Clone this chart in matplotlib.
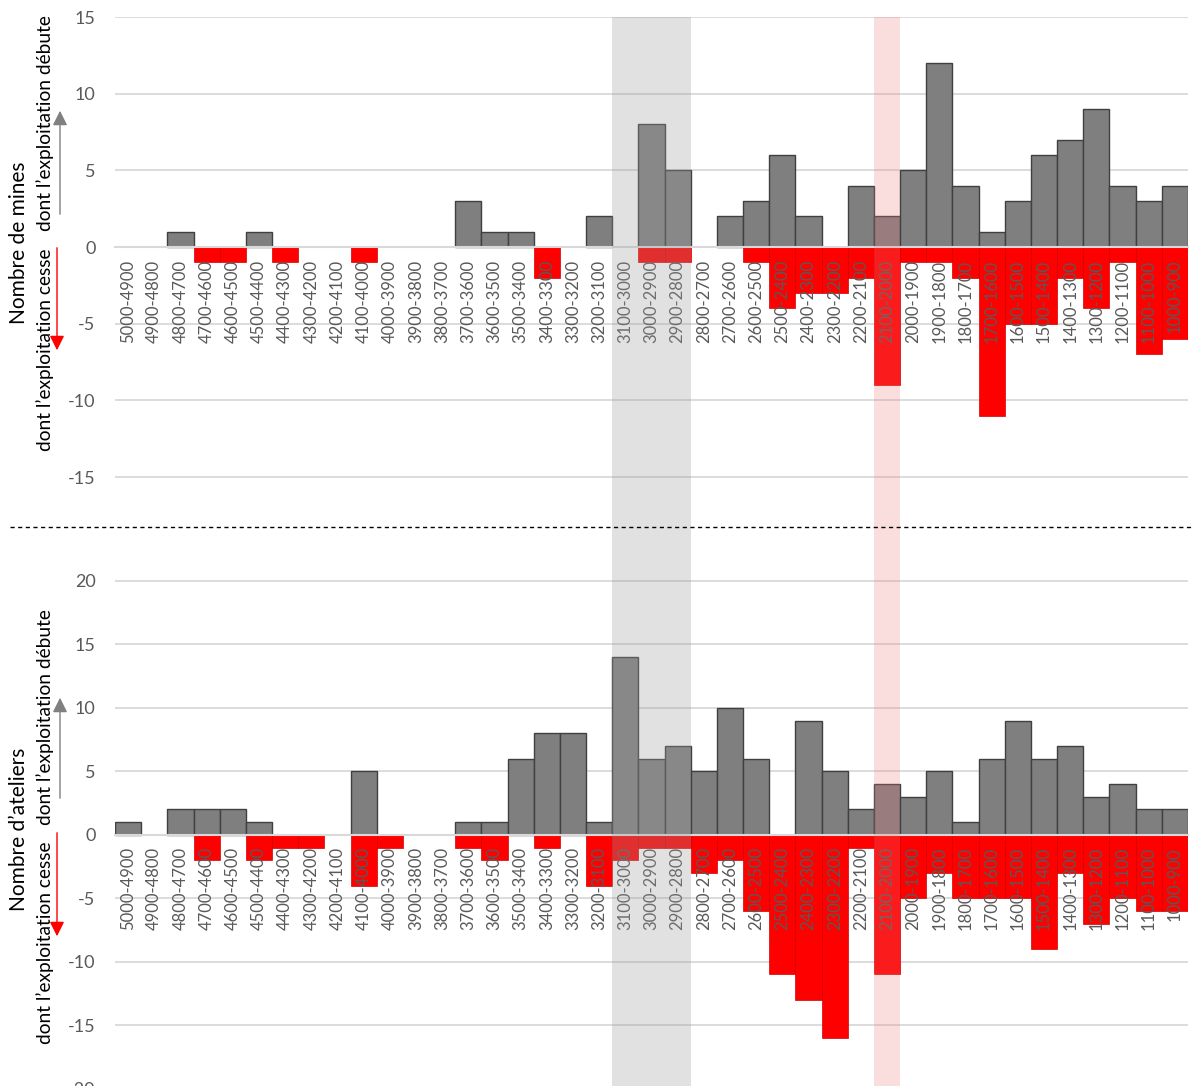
import numpy as np
import matplotlib
matplotlib.use("Agg")
import matplotlib.pyplot as plt
from matplotlib.lines import Line2D
from matplotlib.patches import FancyArrowPatch

plt.rcParams['font.family'] = ['Lato', 'DejaVu Sans']
plt.rcParams['axes.unicode_minus'] = False

# Periods (years BC), from oldest to most recent
periods = ['5000-4900', '4900-4800', '4800-4700', '4700-4600', '4600-4500',
           '4500-4400', '4400-4300', '4300-4200', '4200-4100', '4100-4000',
           '4000-3900', '3900-3800', '3800-3700', '3700-3600', '3600-3500',
           '3500-3400', '3400-3300', '3300-3200', '3200-3100', '3100-3000',
           '3000-2900', '2900-2800', '2800-2700', '2700-2600', '2600-2500',
           '2500-2400', '2400-2300', '2300-2200', '2200-2100', '2100-2000',
           '2000-1900', '1900-1800', '1800-1700', '1700-1600', '1600-1500',
           '1500-1400', '1400-1300', '1300-1200', '1200-1100', '1100-1000',
           '1000-900']

# Mines: number starting / ending exploitation
mines_start = [0, 0, 1, 0, 0, 1, 0, 0, 0, 0,
               0, 0, 0, 3, 1, 1, 0, 0, 2, 0,
               8, 5, 0, 2, 3, 6, 2, 0, 4, 2,
               5, 12, 4, 1, 3, 6, 7, 9, 4, 3,
               4]
mines_end = [0, 0, 0, 1, 1, 0, 1, 0, 0, 1,
             0, 0, 0, 0, 0, 0, 2, 0, 0, 0,
             1, 1, 0, 0, 1, 4, 3, 3, 2, 9,
             1, 1, 2, 11, 5, 5, 2, 4, 1, 7,
             6]

# Workshops (ateliers): number starting / ending exploitation
ateliers_start = [1, 0, 2, 2, 2, 1, 0, 0, 0, 5,
                  0, 0, 0, 1, 1, 6, 8, 8, 1, 14,
                  6, 7, 5, 10, 6, 0, 9, 5, 2, 4,
                  3, 5, 1, 6, 9, 6, 7, 3, 4, 2,
                  2]
ateliers_end = [0, 0, 0, 2, 0, 2, 1, 1, 0, 4,
                1, 0, 0, 1, 2, 0, 1, 0, 4, 2,
                1, 1, 3, 2, 6, 11, 13, 16, 1, 11,
                5, 3, 5, 5, 5, 9, 3, 7, 5, 6,
                6]

# Highlighted periods
gray_span = ('3100-3000', '2900-2800')
pink_span = ('2100-2000', '2100-2000')

W, H = 1196, 1086
fig = plt.figure(figsize=(W / 100, H / 100), dpi=100)

x = np.arange(len(periods))
left, right = 115, 1188


def draw_panel(ax, starts, ends, yticks, ylim):
    starts = np.array(starts)
    ends = np.array(ends)
    m = starts > 0
    ax.bar(x[m], starts[m], width=1, color='#7f7f7f', edgecolor='#404040',
           linewidth=1, zorder=1)
    m = ends > 0
    ax.bar(x[m], -ends[m], width=1, color='#ff0000', edgecolor='#d00000',
           linewidth=0.5, zorder=1)
    for t in yticks:
        ax.axhline(t, color='#d9d9d9', linewidth=1.3, zorder=0)
    ax.set_xlim(-0.5, len(periods) - 0.5)
    ax.set_ylim(*ylim)
    ax.set_yticks(yticks)
    ax.set_xticks(x, periods)
    ax.set_axisbelow(False)
    for s in ['top', 'right', 'left']:
        ax.spines[s].set_visible(False)
    ax.spines['bottom'].set_position(('data', 0))
    ax.spines['bottom'].set_color('#d9d9d9')
    ax.spines['bottom'].set_linewidth(1.5)
    ax.tick_params(axis='x', length=0, pad=9, labelsize=12,
                   labelcolor='#595959', labelrotation=90)
    ax.tick_params(axis='y', length=0, pad=14, labelsize=13,
                   labelcolor='#595959')
    i0, i1 = periods.index(gray_span[0]), periods.index(gray_span[1])
    ax.axvspan(i0 - 0.5, i1 + 0.5, color='#9d9d9d', alpha=0.3, lw=0, zorder=3)
    i0, i1 = periods.index(pink_span[0]), periods.index(pink_span[1])
    ax.axvspan(i0 - 0.5, i1 + 0.5, color='#ee7678', alpha=0.24, lw=0, zorder=3)


# Top panel: mines
ax1 = fig.add_axes([left / W, 1 - 527 / H, (right - left) / W, 510 / H])
draw_panel(ax1, mines_start, mines_end, list(range(-15, 16, 5)), (-18.26, 15))

# Bottom panel: ateliers
ax2 = fig.add_axes([left / W, 1 - 1090 / H, (right - left) / W, 563 / H])
draw_panel(ax2, ateliers_start, ateliers_end, list(range(-20, 21, 5)), (-20.1, 24.25))

# Separator
fig.add_artist(Line2D([10 / W, 1192 / W], [1 - 527 / H, 1 - 527 / H],
                      color='black', linewidth=1, linestyle=(0, (3, 2.5))))


def side_labels(title, yc, t_up, t_dn, arr_up, arr_dn):
    fig.text(19 / W, 1 - yc / H, title, rotation=90, ha='center', va='center',
             fontsize=15, color='black')
    fig.text(45 / W, 1 - t_up / H, 'dont l\u2019exploitation débute', rotation=90,
             ha='center', va='center', fontsize=13.8, color='black')
    fig.text(45 / W, 1 - t_dn / H, 'dont l\u2019exploitation cesse', rotation=90,
             ha='center', va='center', fontsize=13.8, color='black')
    fig.add_artist(FancyArrowPatch((60 / W, 1 - arr_up[0] / H), (60 / W, 1 - arr_up[1] / H),
                                   transform=fig.transFigure, arrowstyle='-|>',
                                   mutation_scale=22, color='#808080', linewidth=1))
    fig.add_artist(FancyArrowPatch((57 / W, 1 - arr_dn[0] / H), (57 / W, 1 - arr_dn[1] / H),
                                   transform=fig.transFigure, arrowstyle='-|>',
                                   mutation_scale=22, color='#ff0000', linewidth=1))


side_labels('Nombre de mines', 243, 123, 350, (217, 108), (245, 353))
side_labels('Nombre d\u2019ateliers', 829, 717, 943, (801, 695), (830, 939))

fig.savefig('out.png', dpi=100)
